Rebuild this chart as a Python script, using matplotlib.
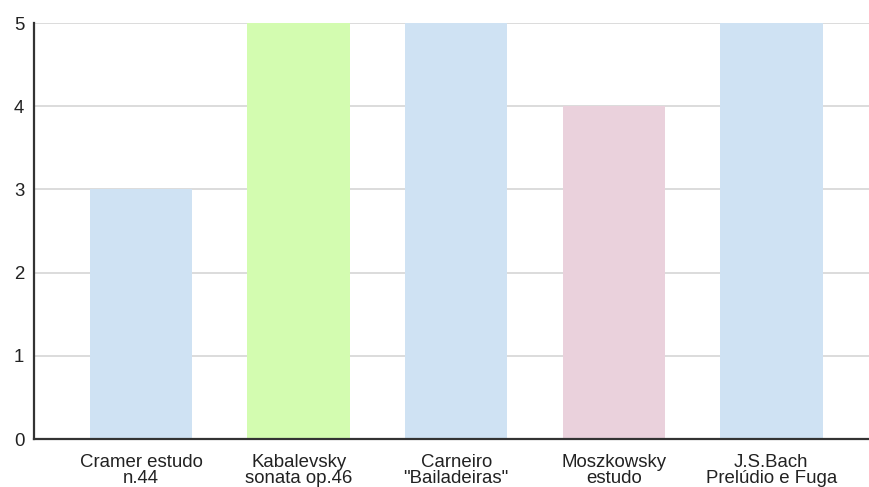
import matplotlib
matplotlib.use("Agg")
import matplotlib.pyplot as plt

categories = ["Cramer estudo\nn.44", "Kabalevsky\nsonata op.46", "Carneiro\n\"Bailadeiras\"",
              "Moszkowsky\nestudo", "J.S.Bach\nPrelúdio e Fuga"]
values = [3, 5, 5, 4, 5]
colors = ["#cfe2f3", "#d3fcb0", "#cfe2f3", "#ead1dc", "#cfe2f3"]
yticks = [0, 1, 2, 3, 4, 5]

plt.rcParams['font.family'] = ['Liberation Sans', 'DejaVu Sans']

fig = plt.figure(figsize=(8.69, 4.87), dpi=100)
ax = fig.add_axes([34 / 869, 1 - 439 / 487, (869 - 34) / 869, (439 - 23) / 487])

x = range(len(categories))
ax.bar(x, values, width=0.65, color=colors, zorder=2)

ax.set_xlim(-0.68, 4.62)
ax.set_ylim(0, 5)
ax.set_yticks(yticks)
ax.set_xticks(list(x))
ax.set_xticklabels(categories, fontsize=13.4, linespacing=0.9, color="#222222")
ax.tick_params(axis="y", labelsize=13.4, length=0, pad=7, colors="#222222")
ax.tick_params(axis="x", length=0, pad=11)

ax.yaxis.grid(True, color="#d9d9d9", linewidth=1.3, zorder=1)
ax.set_axisbelow(True)
for s in ("top", "right"):
    ax.spines[s].set_visible(False)
ax.spines["left"].set_color("#333333")
ax.spines["left"].set_linewidth(1.6)
ax.spines["bottom"].set_color("#333333")
ax.spines["bottom"].set_linewidth(1.6)
ax.spines["bottom"].set_zorder(3)

fig.savefig("out.png", dpi=100)
